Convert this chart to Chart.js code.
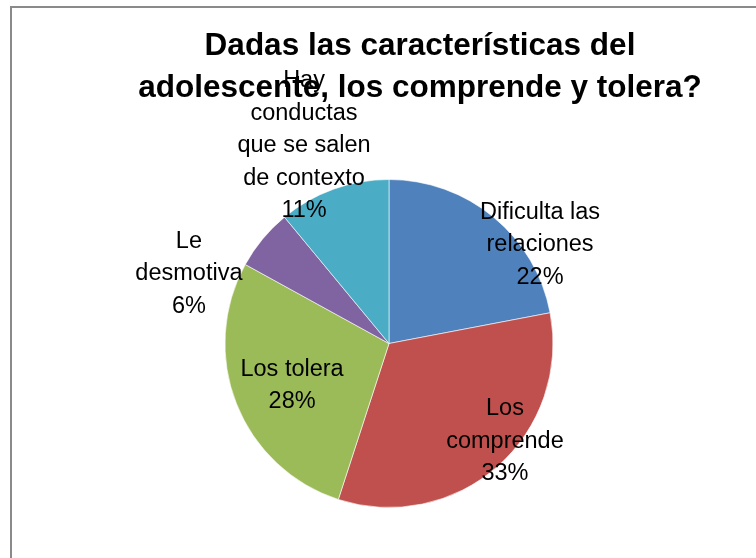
<!DOCTYPE html>
<html>
<head>
<meta charset="utf-8">
<script src="https://cdn.jsdelivr.net/npm/chart.js@4/dist/chart.umd.min.js"></script>
<style>
  html, body { margin: 0; padding: 0; background: #fff; overflow: hidden; }
  #wrap { position: relative; width: 756px; height: 558px; }
</style>
</head>
<body>
<div id="wrap"><canvas id="myChart" width="756" height="558"></canvas></div>
<script>
// data
var titleLines = ['Dadas las características del', 'adolescente, los comprende y tolera?'];
var categories = [
    ['Dificulta las', 'relaciones'],
    ['Los', 'comprende'],
    ['Los tolera'],
    ['Le', 'desmotiva'],
    ['Hay', 'conductas', 'que se salen', 'de contexto']
];
var values = [22, 33, 28, 6, 11];
var colors = ['#4F81BD', '#C0504D', '#9BBB59', '#8064A2', '#4BACC6'];

// where each label block sits, relative to pie centre, in units of the radius
var labelSpots = [[0.921, -0.564], [0.707, 0.637], [-0.591, 0.296], [-1.22, -0.387], [-0.518, -1.165]];

var labelFont = '23.5px "Liberation Sans", Arial, sans-serif';
var titleFont = 'bold 31.5px "Liberation Sans", Arial, sans-serif';

// frame + title
var framePlugin = {
    id: 'frame',
    beforeDraw: function(chart) {
        var c = chart.ctx;
        c.save();
        c.strokeStyle = '#8a8a8a';
        c.lineWidth = 2;
        c.strokeRect(11, 7, 1000, 1000);
        c.restore();
    },
    afterDraw: function(chart) {
        var c = chart.ctx;
        c.save();
        c.fillStyle = '#000';
        c.font = titleFont;
        c.textAlign = 'center';
        c.textBaseline = 'alphabetic';
        for (var i = 0; i < titleLines.length; i++) {
            c.fillText(titleLines[i], 420, 55 + i * 42);
        }
        c.restore();
    }
};

// data labels: name + percent
var labelPlugin = {
    id: 'sliceLabels',
    afterDraw: function(chart) {
        var c = chart.ctx;
        var meta = chart.getDatasetMeta(0);
        var total = values.reduce(function(a, b) { return a + b; }, 0);
        c.save();
        c.fillStyle = '#000';
        c.font = labelFont;
        c.textAlign = 'center';
        c.textBaseline = 'alphabetic';
        meta.data.forEach(function(arc, i) {
            var p = arc.getProps(['x', 'y', 'outerRadius'], true);
            var lines = categories[i].concat([Math.round(values[i] / total * 100) + '%']);
            var lh = 32.5;
            var cx = p.x + labelSpots[i][0] * p.outerRadius;
            var cy = p.y + labelSpots[i][1] * p.outerRadius;
            for (var k = 0; k < lines.length; k++) {
                c.fillText(lines[k], cx, cy + (k - (lines.length - 1) / 2) * lh);
            }
        });
        c.restore();
    }
};

var ctx = document.getElementById('myChart').getContext('2d');
var chart = new Chart(ctx, {
    type: 'pie',
    data: {
        labels: categories,
        datasets: [{
            data: values,
            backgroundColor: colors,
            borderColor: '#ffffff',
            borderWidth: 0.6,
            radius: 164
        }]
    },
    options: {
        responsive: false,
        animation: false,
        layout: { padding: { left: 22, right: 0, top: 160, bottom: 31 } },
        plugins: {
            legend: { display: false },
            tooltip: { enabled: false },
            title: { display: false }
        }
    },
    plugins: [framePlugin, labelPlugin]
});
</script>
</body>
</html>
